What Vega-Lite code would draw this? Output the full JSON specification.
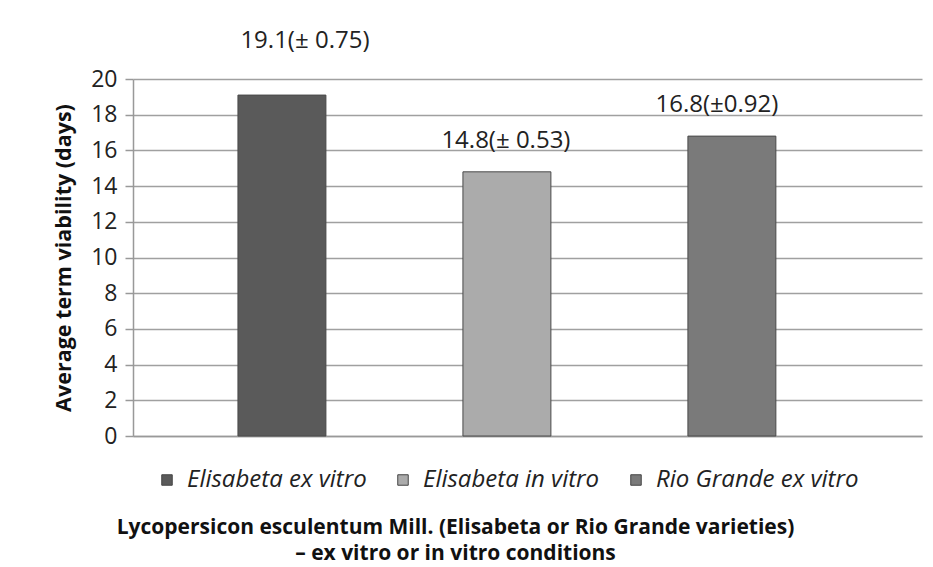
{
  "$schema": "https://vega.github.io/schema/vega-lite/v6.json",
  "autosize": {"type": "none"},
  "padding": {"left": 133, "top": 79, "right": 11, "bottom": 131},
  "width": 789,
  "height": 357,
  "background": "white",
  "config": {
    "font": "Open Sans",
    "view": {"stroke": null}
  },
  "data": {
    "values": [
      {"group": "Elisabeta ex vitro", "days": 19.1, "label": "19.1(± 0.75)"},
      {"group": "Elisabeta in vitro", "days": 14.8, "label": "14.8(± 0.53)"},
      {"group": "Rio Grande ex vitro", "days": 16.8, "label": "16.8(±0.92)"}
    ]
  },
  "title": {
    "text": ["Lycopersicon  esculentum Mill. (Elisabeta  or Rio Grande varieties)", "– ex vitro or in vitro conditions"],
    "orient": "bottom",
    "anchor": "middle",
    "frame": "group",
    "fontSize": 21,
    "fontWeight": "bold",
    "color": "#111111",
    "lineHeight": 26,
    "offset": 25,
    "dx": -72
  },
  "encoding": {
    "x": {
      "field": "group",
      "type": "nominal",
      "sort": null,
      "scale": {"paddingInner": 0.609, "paddingOuter": 0.558, "align": 0.418},
      "axis": {
        "title": null,
        "labels": false,
        "ticks": false,
        "domain": true,
        "domainColor": "#999999",
        "domainWidth": 1.5
      }
    },
    "y": {
      "field": "days",
      "type": "quantitative",
      "scale": {"domain": [0, 20], "nice": false},
      "axis": {
        "title": "Average term viability (days)",
        "titleFontSize": 21.5,
        "titleFontWeight": "bold",
        "titleColor": "#111111",
        "titlePadding": 15,
        "values": [0, 2, 4, 6, 8, 10, 12, 14, 16, 18, 20],
        "labelFontSize": 23,
        "labelColor": "#222222",
        "labelPadding": 8,
        "tickSize": 8,
        "tickColor": "#999999",
        "tickWidth": 1.5,
        "domainColor": "#999999",
        "domainWidth": 1.5,
        "gridColor": "#a0a0a0",
        "gridWidth": 1.5
      }
    }
  },
  "layer": [
    {
      "mark": {"type": "bar", "stroke": "#4a4a4a", "strokeWidth": 1},
      "encoding": {
        "color": {
          "field": "group",
          "type": "nominal",
          "sort": null,
          "scale": {"range": ["#5a5a5a", "#ababab", "#7a7a7a"]},
          "legend": {
            "title": null,
            "orient": "none",
            "legendX": 22,
            "legendY": 389,
            "direction": "horizontal",
            "symbolType": "square",
            "symbolSize": 110,
            "symbolStrokeColor": "#444444",
            "symbolStrokeWidth": 1,
            "labelFontSize": 24,
            "labelFontStyle": "italic",
            "labelColor": "#222222",
            "labelLimit": 400,
            "labelOffset": 8,
            "columnPadding": 24
          }
        }
      }
    },
    {
      "transform": [{"filter": "datum.group == 'Elisabeta ex vitro'"}],
      "mark": {"type": "text", "fontSize": 24, "color": "#222222", "dx": 23, "dy": -54},
      "encoding": {"text": {"field": "label"}}
    },
    {
      "transform": [{"filter": "datum.group == 'Elisabeta in vitro'"}],
      "mark": {"type": "text", "fontSize": 24, "color": "#222222", "dx": -1, "dy": -31},
      "encoding": {"text": {"field": "label"}}
    },
    {
      "transform": [{"filter": "datum.group == 'Rio Grande ex vitro'"}],
      "mark": {"type": "text", "fontSize": 24, "color": "#222222", "dx": -15, "dy": -31},
      "encoding": {"text": {"field": "label"}}
    }
  ]
}
